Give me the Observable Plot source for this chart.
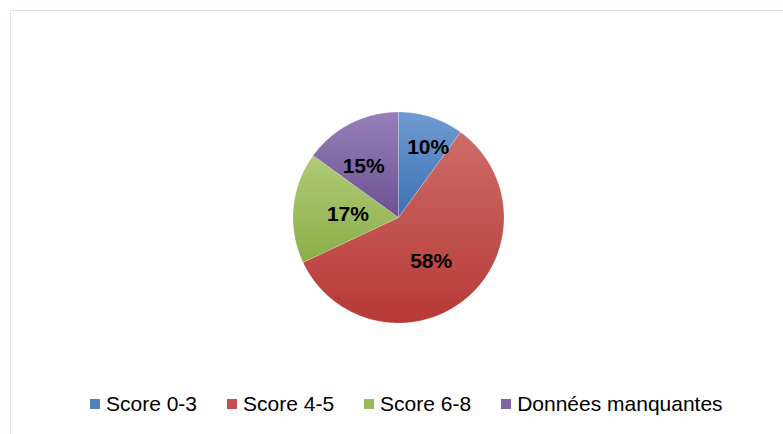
<!DOCTYPE html>
<html>
<head>
<meta charset="utf-8">
<script src="https://cdn.jsdelivr.net/npm/d3@7"></script>
<script src="https://cdn.jsdelivr.net/npm/@observablehq/plot@0.6"></script>
<style>
  html, body { margin: 0; padding: 0; background: #fff; }
  #wrap { position: relative; width: 783px; height: 434px; overflow: hidden; font-family: "Liberation Sans", Arial, sans-serif; }
  #frame { position: absolute; left: 9.5px; top: 9.5px; width: 820px; height: 500px; border: 1.5px solid #D9E3F2; box-sizing: border-box; }
  #chart { position: absolute; left: 0; top: 0; }
  #legend { position: absolute; left: 90px; top: 392px; display: flex; gap: 30px; align-items: center; font-size: 21px; color: #000; white-space: nowrap; }
  .item { display: flex; align-items: center; gap: 6px; }
  .sw { width: 10px; height: 10px; display: inline-block; }
</style>
</head>
<body>
<div id="wrap">
  <div id="frame"></div>
  <div id="chart"></div>
  <div id="legend"></div>
</div>
<script>
// ---- data ----
const categories = ["Score 0-3", "Score 4-5", "Score 6-8", "Données manquantes"];
const shares = [10, 58, 17, 15];
const labels = ["10%", "58%", "17%", "15%"];

// ---- styles / layout ----
const colorsTop = ["#6F9BD1", "#CD6C69", "#B0CB78", "#9680B8"];
const colorsBottom = ["#3C71B4", "#B73936", "#8BAE47", "#6C5192"];
const swatch = ["#4F81BD", "#C0504D", "#9BBB59", "#8064A2"];
const labelRadius = [0.72, 0.52, 0.48, 0.59];
const labelTurn = [5, 3, -2, -7];

const cx = 398, cy = 217, R = 105.5;

const pie = d3.pie().sort(null).value(d => d.v).startAngle(0).endAngle(2 * Math.PI);
const arcs = pie(categories.map((c, i) => ({c, v: shares[i], i})));

const slicePts = arcs.map(a => {
  const pts = [{x: 0, y: 0}];
  const n = Math.max(2, Math.ceil((a.endAngle - a.startAngle) / (Math.PI / 360)));
  for (let k = 0; k <= n; k++) {
    const t = a.startAngle + (a.endAngle - a.startAngle) * k / n;
    pts.push({x: Math.sin(t), y: Math.cos(t)});
  }
  pts.push({x: 0, y: 0});
  return pts;
});

const labelData = arcs.map((a, i) => {
  const t = (a.startAngle + a.endAngle) / 2 + labelTurn[i] * Math.PI / 180;
  return {x: labelRadius[i] * Math.sin(t), y: labelRadius[i] * Math.cos(t), text: labels[i]};
});

const plot = Plot.plot({
  width: 783,
  height: 385,
  margin: 0,
  x: {domain: [-1, 1], range: [cx - R, cx + R], axis: null},
  y: {domain: [-1, 1], range: [cy + R, cy - R], axis: null},
  style: {background: "transparent", overflow: "visible"},
  marks: [
    ...slicePts.map((pts, i) => Plot.line(pts, {
      x: "x", y: "y",
      fill: `url(#slice-grad-${i})`,
      stroke: "#ffffff", strokeOpacity: 0.35, strokeWidth: 0.6
    })),
    Plot.text(labelData, {
      x: "x", y: "y", text: "text",
      fontSize: 21, fontWeight: "bold", fill: "#000",
      fontFamily: "Liberation Sans, Arial, sans-serif"
    })
  ]
});

// gradient defs
const ns = "http://www.w3.org/2000/svg";
const defs = document.createElementNS(ns, "defs");
colorsTop.forEach((c, i) => {
  const g = document.createElementNS(ns, "linearGradient");
  g.setAttribute("id", `slice-grad-${i}`);
  g.setAttribute("x1", "0"); g.setAttribute("y1", "0");
  g.setAttribute("x2", "0"); g.setAttribute("y2", "1");
  const s1 = document.createElementNS(ns, "stop");
  s1.setAttribute("offset", "0"); s1.setAttribute("stop-color", c);
  const s2 = document.createElementNS(ns, "stop");
  s2.setAttribute("offset", "1"); s2.setAttribute("stop-color", colorsBottom[i]);
  g.appendChild(s1); g.appendChild(s2);
  defs.appendChild(g);
});
plot.insertBefore(defs, plot.firstChild);
document.getElementById("chart").appendChild(plot);

// legend
const legend = document.getElementById("legend");
categories.forEach((c, i) => {
  const item = document.createElement("div");
  item.className = "item";
  const sw = document.createElement("span");
  sw.className = "sw";
  sw.style.background = swatch[i];
  const tx = document.createElement("span");
  tx.textContent = c;
  item.appendChild(sw); item.appendChild(tx);
  legend.appendChild(item);
});
</script>
</body>
</html>
